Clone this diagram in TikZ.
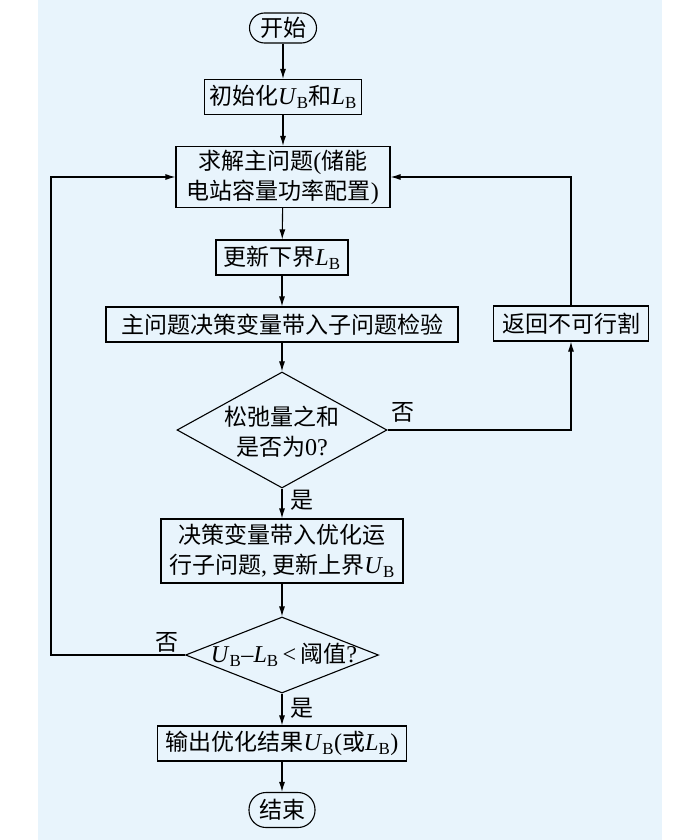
\documentclass[tikz,border=0pt]{standalone}
\usepackage{fontspec}
\newfontfamily\cjk{Noto Sans CJK SC}
\newfontfamily\lat[Scale=1.05]{Liberation Serif}
\usetikzlibrary{shapes.geometric,arrows.meta}
\definecolor{bgblue}{RGB}{232,244,252}
\newcommand{\bU}{{\lat\itshape U\/}{\lat\textsubscript{B}}}
\newcommand{\bL}{{\lat\itshape L\/}{\lat\textsubscript{B}}}
\tikzset{
	txt/.style={font=\cjk\fontsize{23}{30}\selectfont,align=center},
	proc/.style={txt,draw,fill=bgblue,minimum height=35pt,inner sep=1pt},
	term/.style={txt,draw,fill=bgblue,inner sep=0pt},
	cond/.style={draw,fill=bgblue,diamond,inner sep=0pt},
	arr/.style={-{Latex[length=10pt,width=6pt]}},
}
\begin{document}
\begin{tikzpicture}[x=1pt,y=-1pt,line width=1.1pt]
		% the page and the blue background
		\useasboundingbox (0,0) rectangle (700,840);
		\fill[bgblue] (38,0) rectangle (662,840);
		
		% the steps
		\node[term,minimum width=67pt,minimum height=30pt,rounded corners=15pt] (start) at (283,28) {开始};
		\node[proc,minimum width=157pt] (init) at (283,97) {初始化\bU 和\bL};
		\node[proc,minimum width=214pt,minimum height=61pt] (master) at (283,177) {求解主问题{\lat(}储能\\电站容量功率配置{\lat)}};
		\node[proc,minimum width=132pt] (lower) at (282,257.5) {更新下界\bL};
		\node[proc,minimum width=352pt] (sub) at (282,324.5) {主问题决策变量带入子问题检验};
		\node[cond,minimum width=210pt,minimum height=116pt] (slack) at (282,430) {};
		\node[txt] (slacktxt) at (282,432) {松弛量之和\\是否为{\lat 0?}};
		\node[proc,minimum width=242pt,minimum height=64pt] (opt) at (282,551) {决策变量带入优化运\\行子问题{\lat,} 更新上界\bU};
		\node[cond,minimum width=193pt,minimum height=76pt] (gap) at (282,655) {};
		\node[txt] (gaptxt) at (284,655) {\bU{\lat–}\bL{\lat\,<\,}阈值{\lat ?}};
		\node[proc,minimum width=249pt] (out) at (282,743.5) {输出优化结果\bU{\lat(}或\bL{\lat)}};
		\node[term,minimum width=66pt,minimum height=35pt,rounded corners=17pt] (stop) at (282,810) {结束};
		\node[proc,minimum width=155pt] (ret) at (571,323.5) {返回不可行割};
		\coordinate (loop) at (51,655);
		
		% the main line
		\draw[arr] (start) -- (init);
		\draw[arr] (init) -- (master);
		\draw[arr] (master) -- (lower);
		\draw[arr] (lower) -- (sub);
		\draw[arr] (sub) -- (slack);
		\draw[arr] (slack) -- (opt);
		\draw[arr] (opt) -- (gap);
		\draw[arr] (gap) -- (out);
		\draw[arr] (out) -- (stop);
		% the two loops back
		\draw[arr] (slack.east) -| (ret);
		\draw[arr] (ret) |- (master);
		\draw[arr] (gap.west) -- (loop) |- (master);
		
		% labels for the branches
		\node[txt] (no1) at (403,412) {否};
		\node[txt] (yes1) at (302,500) {是};
		\node[txt] (no2) at (167,642) {否};
		\node[txt] (yes2) at (302,708) {是};
\end{tikzpicture}
\end{document}
